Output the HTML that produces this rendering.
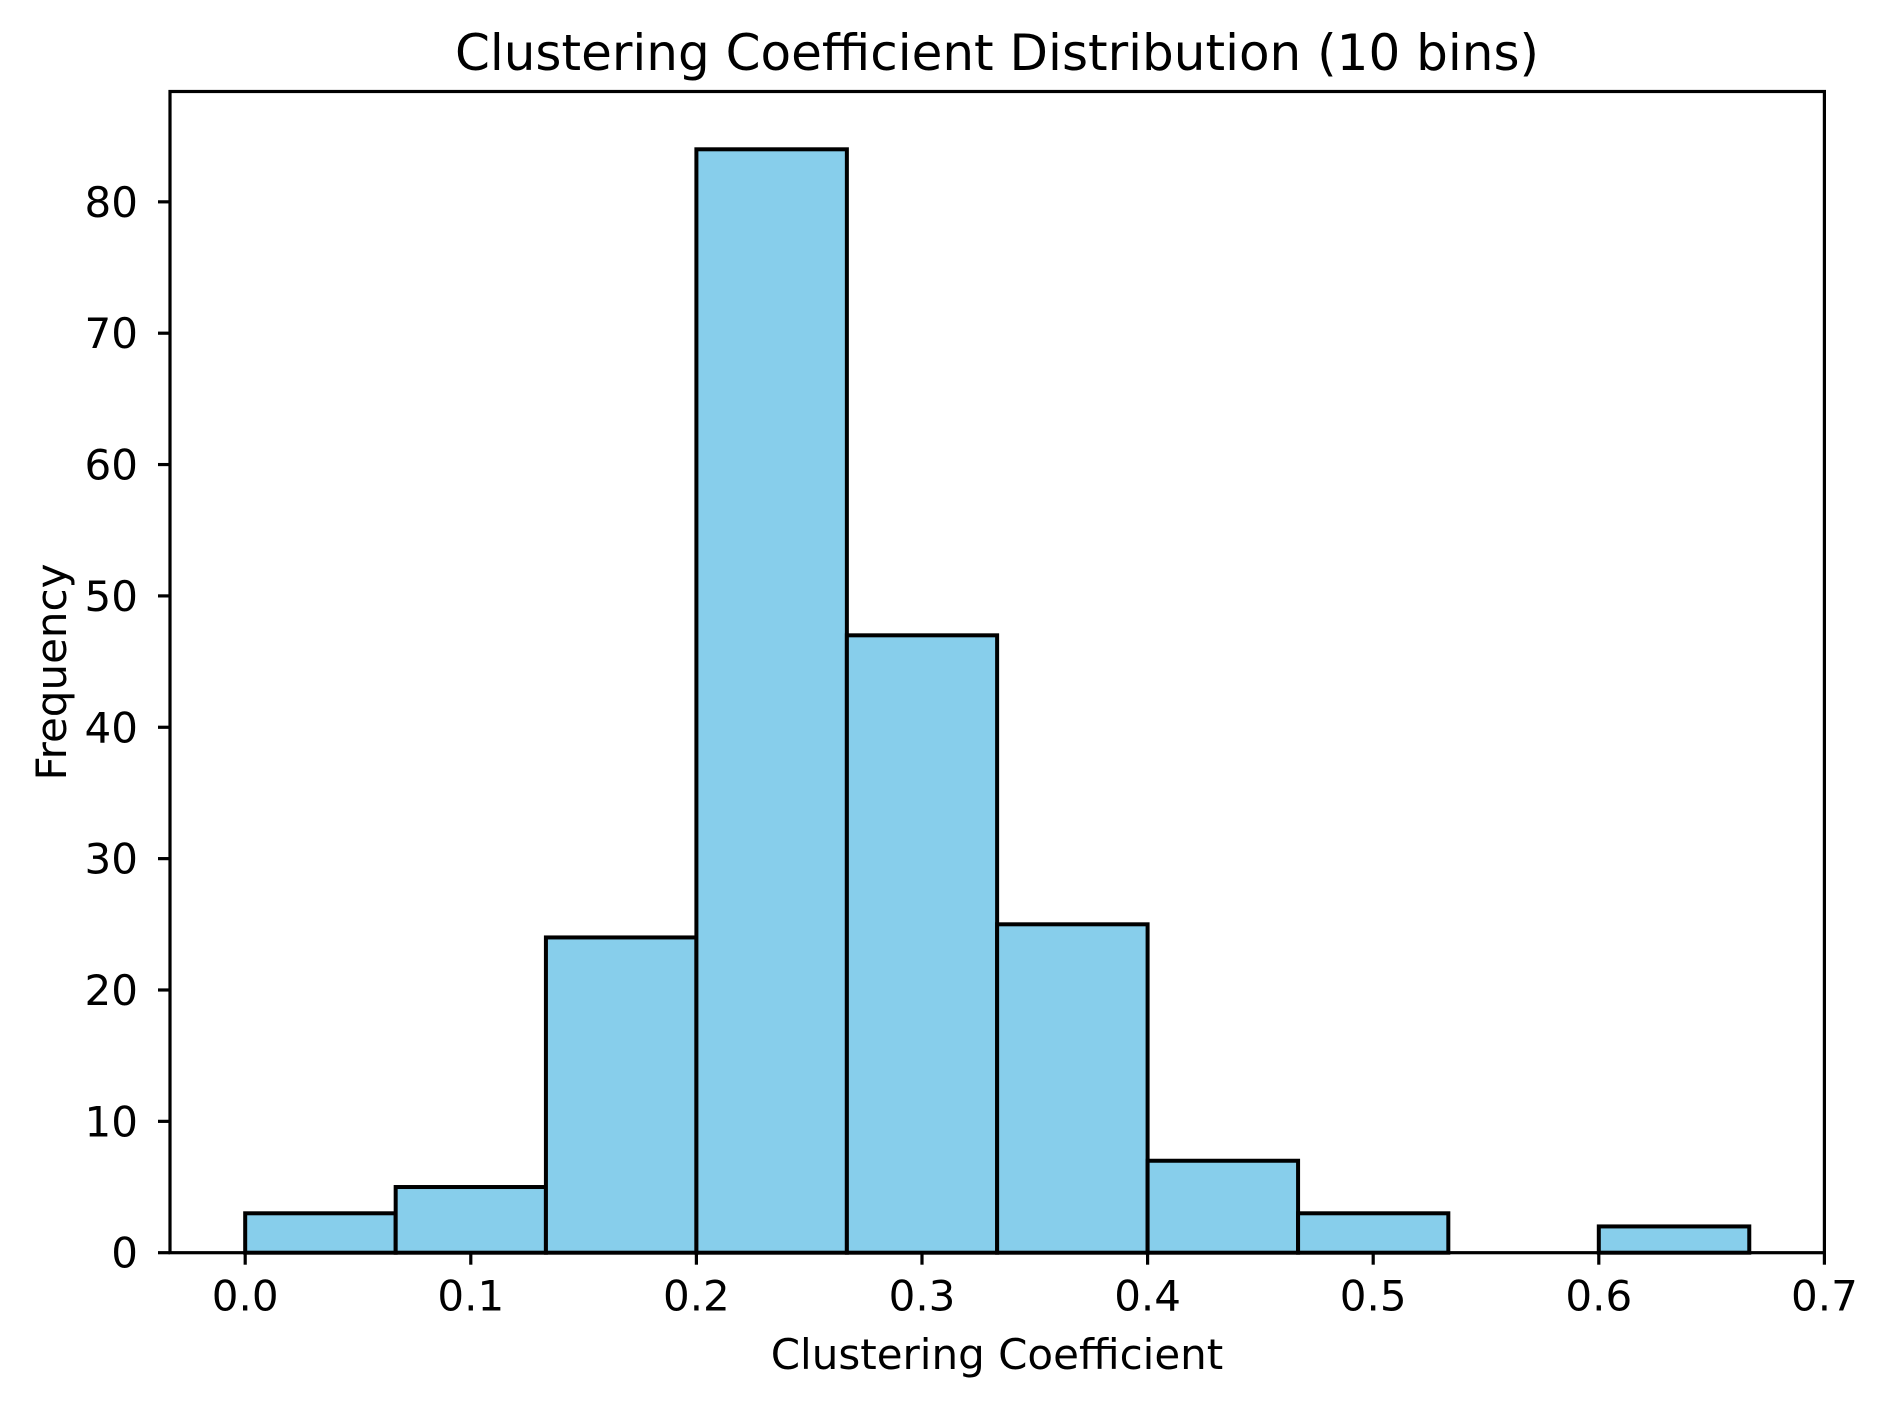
<!DOCTYPE html>
<html><head><meta charset="utf-8"><style>
html,body{margin:0;padding:0;background:#fff;}
svg{display:block;font-family:"DejaVu Sans","Liberation Sans",sans-serif;}
</style></head><body>
<svg id="chart" width="1887" height="1408" viewBox="0 0 1887 1408" xmlns="http://www.w3.org/2000/svg">
<rect width="1887" height="1408" fill="#fff"/>
<text x="997" y="70" font-size="50" text-anchor="middle">Clustering Coefficient Distribution (10 bins)</text>
<g id="bars"></g>
<g id="xticks"></g>
<g id="yticks"></g>
<rect x="170" y="91.5" width="1654.4" height="1161.2" fill="none" stroke="#000" stroke-width="3.2"/>
<text x="997" y="1369" font-size="42" text-anchor="middle">Clustering Coefficient</text>
<text transform="translate(66,672) rotate(-90)" font-size="42" text-anchor="middle">Frequency</text>
</svg>
<script>
const binEdges = [0, 0.0667, 0.1333, 0.2, 0.2667, 0.3333, 0.4, 0.4667, 0.5333, 0.6, 0.6667];
const counts = [3, 5, 24, 84, 47, 25, 7, 3, 0, 2];
const xTickValues = [0.0, 0.1, 0.2, 0.3, 0.4, 0.5, 0.6, 0.7];
const xTickLabels = ["0.0", "0.1", "0.2", "0.3", "0.4", "0.5", "0.6", "0.7"];
const yTickValues = [0, 10, 20, 30, 40, 50, 60, 70, 80];
const yTickLabels = ["0", "10", "20", "30", "40", "50", "60", "70", "80"];

const NS = "http://www.w3.org/2000/svg";
const plotL = 170, plotR = 1824.4, plotT = 91.5, plotB = 1252.7;
const xMin = -0.03333, xMax = 0.7, yMin = 0, yMax = 88.4;
function xs(v){ return plotL + (v - xMin) / (xMax - xMin) * (plotR - plotL); }
function ys(v){ return plotB - (v - yMin) / (yMax - yMin) * (plotB - plotT); }

const bars = document.getElementById('bars');
counts.forEach((c, i) => {
  const x0 = xs(binEdges[i]), x1 = xs(binEdges[i+1]);
  const r = document.createElementNS(NS, 'rect');
  r.setAttribute('x', x0);
  r.setAttribute('y', ys(c));
  r.setAttribute('width', x1 - x0);
  r.setAttribute('height', ys(0) - ys(c));
  r.setAttribute('fill', '#87ceeb');
  r.setAttribute('stroke', '#000');
  r.setAttribute('stroke-width', '4');
  
  
  bars.appendChild(r);
});

const xg = document.getElementById('xticks');
xTickValues.forEach((v, i) => {
  const x = xs(v);
  const l = document.createElementNS(NS, 'line');
  l.setAttribute('x1', x); l.setAttribute('x2', x);
  l.setAttribute('y1', plotB); l.setAttribute('y2', plotB + 12);
  l.setAttribute('stroke', '#000'); l.setAttribute('stroke-width', '3.2');
  
  
  xg.appendChild(l);
  const t = document.createElementNS(NS, 'text');
  t.setAttribute('x', x); t.setAttribute('y', plotB + 58);
  t.setAttribute('font-size', '42'); t.setAttribute('text-anchor', 'middle');
  
  
  t.textContent = xTickLabels[i];
  xg.appendChild(t);
});

const yg = document.getElementById('yticks');
yTickValues.forEach((v, i) => {
  const y = ys(v);
  const l = document.createElementNS(NS, 'line');
  l.setAttribute('x1', plotL - 12); l.setAttribute('x2', plotL);
  l.setAttribute('y1', y); l.setAttribute('y2', y);
  l.setAttribute('stroke', '#000'); l.setAttribute('stroke-width', '3.2');
  
  
  yg.appendChild(l);
  const t = document.createElementNS(NS, 'text');
  t.setAttribute('x', plotL - 32); t.setAttribute('y', y + 15);
  t.setAttribute('font-size', '42'); t.setAttribute('text-anchor', 'end');
  
  
  t.textContent = yTickLabels[i];
  yg.appendChild(t);
});
</script>
</body></html>
